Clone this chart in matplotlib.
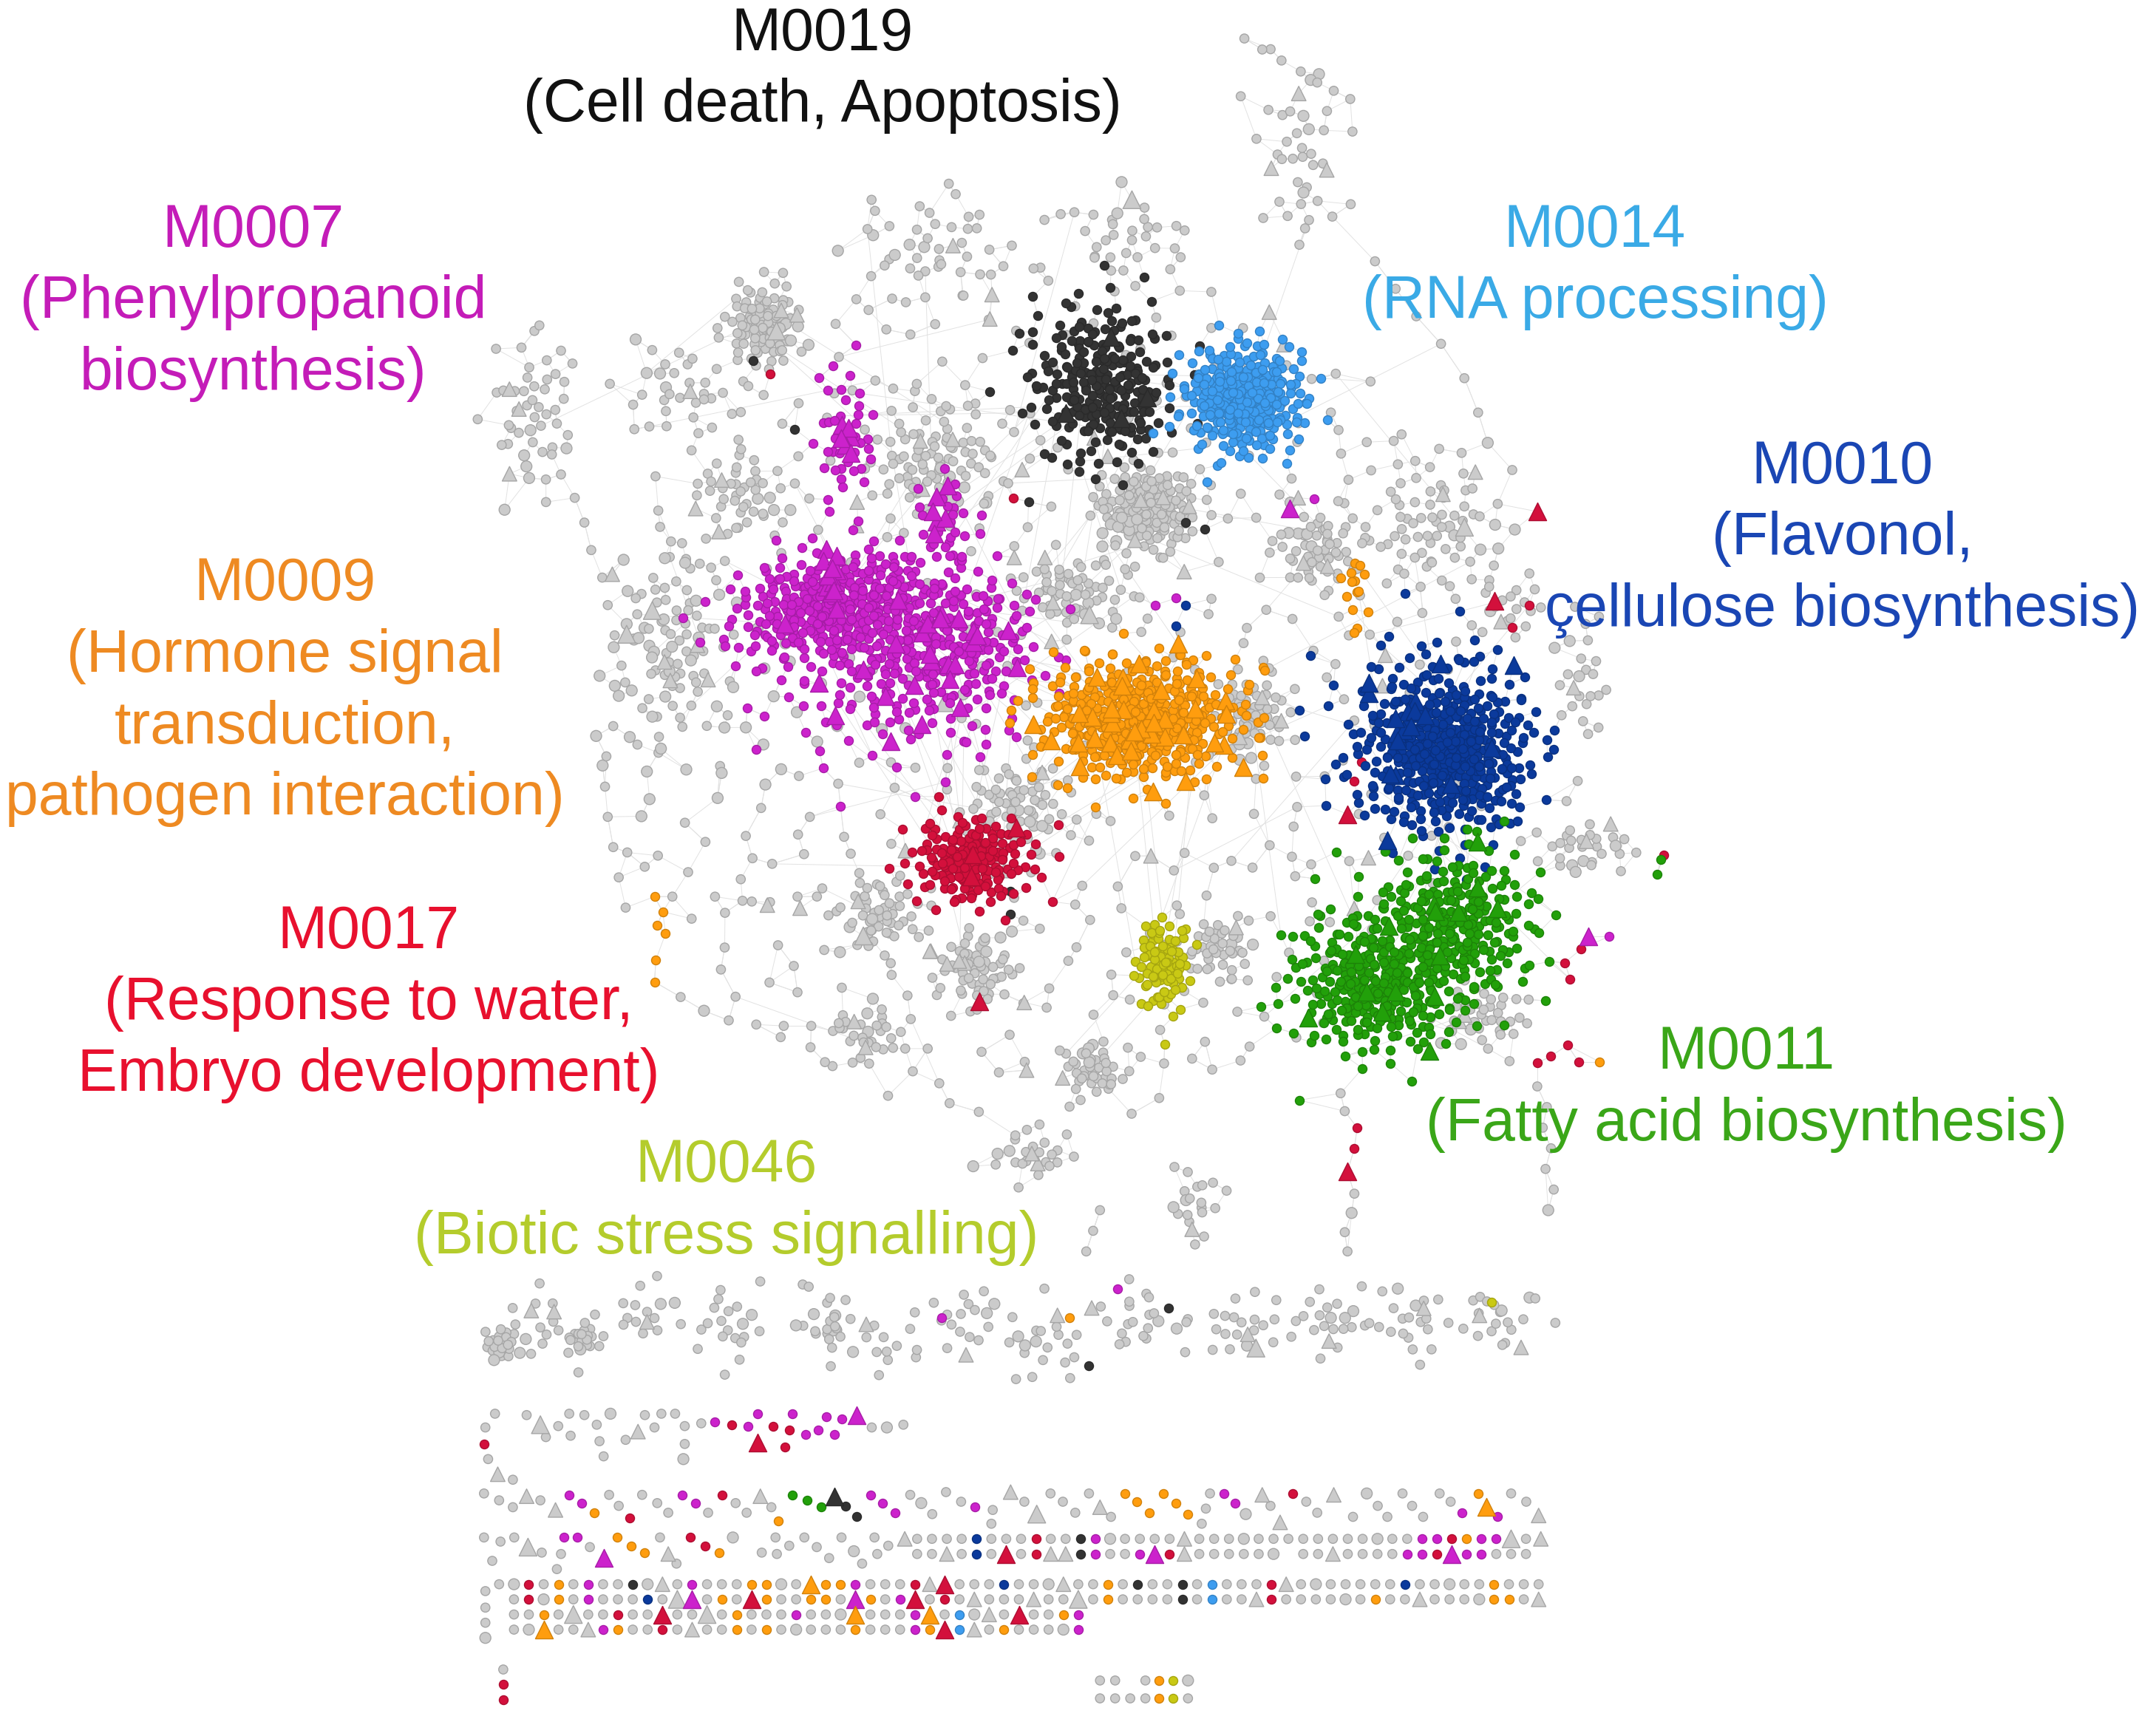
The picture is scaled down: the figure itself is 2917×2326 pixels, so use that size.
import numpy as np
import matplotlib.pyplot as plt
from matplotlib.collections import LineCollection
from matplotlib.colors import to_rgb

# ---- colours ----------------------------------------------------------
node_colors = {'.': '#cbcbcb', 'm': '#cc22cc', 'r': '#d3103c', 'o': '#ff9d0e',
               'k': '#333333', 'b': '#0b3a9c', 'c': '#3d9df0', 'g': '#22a00a',
               'y': '#c9c914'}

# ---- module labels ----------------------------------------------------
label_lines = [["M0019", "(Cell death, Apoptosis)"],
               ["M0007", "(Phenylpropanoid", "biosynthesis)"],
               ["M0014", "(RNA processing)"],
               ["M0010", "(Flavonol,", "çellulose biosynthesis)"],
               ["M0009", "(Hormone signal", "transduction,", "pathogen interaction)"],
               ["M0017", "(Response to water,", "Embryo development)"],
               ["M0011", "(Fatty acid biosynthesis)"],
               ["M0046", "(Biotic stress signalling)"]]
label_x = [598, 184, 1160, 1340, 207, 268, 1270, 528]
label_y = [25, 168, 168, 340, 425, 678, 766, 848]
label_colors = ['#111111', '#c41cb8', '#3aaae6', '#1a46b4', '#ee8a22', '#e8102e',
                '#3aa618', '#b4cc2c']

# ---- main network: coloured node groups -------------------------------
blob_code = ['k', 'k', 'c', 'c', 'm', 'm', 'm', 'm', 'm', 'o', 'o', 'o',
             'b', 'b', 'g', 'g', 'g', 'r', 'r', 'y', 'y']
blob_cx = [805, 795, 905, 900, 605, 690, 650, 615, 688, 830, 830, 985,
           1055, 1035, 1000, 1062, 1025, 705, 710, 845, 848]
blob_cy = [288, 270, 290, 290, 440, 465, 485, 320, 378, 520, 530, 425,
           548, 535, 718, 668, 690, 625, 628, 700, 712]
blob_sx = [24, 65, 22, 55, 38, 35, 110, 26, 24, 38, 85, 10,
           30, 85, 32, 28, 95, 20, 60, 10, 20]
blob_sy = [26, 70, 20, 55, 20, 30, 85, 60, 42, 22, 60, 35,
           30, 85, 25, 28, 75, 15, 45, 16, 45]
blob_n = [130, 120, 240, 55, 300, 180, 170, 45, 30, 330, 110, 10,
          330, 140, 230, 180, 110, 130, 45, 70, 22]
blob_tri = [2, 2, 0, 0, 12, 12, 14, 6, 6, 30, 8, 0,
            10, 10, 6, 5, 4, 3, 0, 0, 0]
blob_shape = ['g', 's', 'g', 's', 'g', 'g', 's', 's', 's', 'g', 's', 's',
              'g', 's', 'g', 'g', 's', 'g', 's', 'g', 's']
blob_rot = [0, 0, 0, 0, -10, 0, 0, 0, 0, 0, 0, 0,
            0, 0, 0, 0, 0, 0, 0, 0, 0]

# ---- main network: grey node groups -----------------------------------
gray_cx = [555, 495, 385, 490, 680, 835, 640, 740, 885, 795, 710, 632, 1150, 1080,
           750, 870, 1045, 945, 680, 820, 910, 1150, 960, 760, 1100, 540, 780]
gray_cy = [235, 285, 300, 470, 335, 370, 665, 585, 690, 778, 705, 752, 615, 738,
           840, 875, 380, 110, 180, 170, 520, 495, 400, 500, 440, 360, 430]
gray_sx = [30, 25, 35, 45, 55, 40, 35, 40, 14, 12, 35, 32, 40, 40,
           35, 25, 60, 40, 80, 55, 28, 22, 35, 330, 30, 40, 45]
gray_sy = [35, 20, 70, 85, 50, 35, 35, 40, 12, 10, 32, 26, 26, 30,
           22, 30, 60, 75, 50, 35, 35, 65, 35, 320, 30, 35, 30]
gray_n = [90, 35, 45, 80, 90, 160, 50, 65, 40, 40, 55, 30, 30, 40,
          25, 20, 65, 35, 45, 30, 60, 25, 55, 520, 20, 40, 60]
gray_tri = [3, 1, 3, 5, 4, 4, 2, 2, 1, 1, 3, 2, 2, 2,
            2, 1, 3, 3, 2, 1, 2, 1, 2, 32, 1, 2, 2]
gray_shape = ['s', 'g', 's', 's', 's', 's', 's', 's', 'g', 'g', 's', 's', 's', 's',
              's', 's', 's', 's', 's', 's', 's', 's', 's', 'u', 's', 's', 's']

# chains and single coloured nodes of the main network
chain_x = [408, 404, 410, 405, 412, 408, 418, 425, 430, 438, 442, 447, 452, 450, 446,
           441, 440, 442, 446, 450, 455, 495, 512, 530, 550, 570, 590, 610,
           975, 978, 985, 983, 978, 980, 1118, 1125, 1122, 1128, 1124, 1130, 1126,
           905, 918, 932, 946, 958, 970, 982, 955, 948, 952, 945,
           1000, 1015, 1030, 1048, 1065, 1075, 1082, 520, 540, 560, 580, 598,
           800, 795, 790, 1175, 1190]
chain_y = [255, 272, 290, 308, 326, 345, 362, 380, 400, 420, 440, 462, 484, 506, 528,
           550, 572, 594, 616, 638, 660, 725, 735, 742, 745, 746, 746, 744,
           795, 808, 868, 882, 896, 910, 790, 805, 820, 835, 850, 865, 880,
           28, 36, 44, 52, 60, 66, 72, 120, 140, 160, 178,
           190, 210, 230, 250, 275, 300, 322, 652, 655, 656, 652, 646,
           880, 895, 910, 615, 620]

stray_x = [1118, 1087, 980, 712, 980, 938, 956, 1155, 1170, 1112, 1100, 990, 985,
           1210, 1140, 1128, 1148, 1118, 1138, 1142, 1150, 1163, 476, 482, 478, 484,
           477, 476, 1205, 945, 735, 862, 876, 548, 578, 560, 737, 748, 975, 988,
           995, 985, 862, 855, 840, 855, 987, 985, 735, 770, 1208]
stray_y = [372, 437, 592, 728, 852, 370, 363, 681, 681, 440, 456, 554, 568,
           622, 760, 768, 772, 773, 700, 712, 690, 772, 652, 663, 673, 679,
           698, 714, 636, 800, 665, 380, 385, 262, 312, 272, 362, 365, 420, 430,
           445, 460, 440, 455, 440, 435, 820, 835, 648, 600, 625]
stray_code = ['R', 'R', 'R', 'R', 'R', 'M', 'm', 'M', 'm', 'r', 'r', 'r', 'r',
              'r', 'r', 'r', 'r', 'r', 'r', 'r', 'r', 'o', 'o', 'o', 'o', 'o',
              'o', 'o', 'g', 'g', 'k', 'k', 'k', 'k', 'k', 'r', 'r', 'k', 'o', 'o',
              'o', 'o', 'b', 'b', 'm', 'm', 'r', 'r', 'k', 'r', 'g']

# ---- lower part: small components ---------------------------------------
# grid rows: y, first x, one code per node ('.' grey, '^' grey triangle,
# lower case = coloured circle, upper case = coloured triangle, ' ' = none)
grid_y = [1119, 1130, 1152, 1163, 1174, 1185]
grid_x0 = [667, 667, 363, 363, 363, 363]
grid_rows = ["....b...r..km.....^...............mmromm^.^",
             "..^.b.R.r^^km..mMr^...... ..^....mmrMmm...",
             "..r.o.m..k.^.m...oo..Ooom...r^R...b...^..o.k..k.c...r^.......b.....o...",
             " .r.o.m...b.^M.o.Ro..oo.Mo.mR.r.^...^..^.o....k.c..^r......o..^....oo.^",
             " ..o.^..r..R..^.o...m...O...mO.c.^.R..om",
             " ..O..^mo..r.^..o.o.....o...moRc^.o....m"]

small_x = [360, 353, 352, 355, 362, 373, 383, 393, 397, 406, 414, 415, 425, 434, 436,
           439, 444, 455, 464, 469, 476, 481, 491, 498, 498, 497, 510, 520, 532, 544,
           551, 551, 562, 571, 574, 576, 586, 595, 601, 607, 612, 623, 634, 645, 657,
           352, 363, 373, 383, 393, 404, 414, 423, 432, 443, 450, 458, 467, 478, 486,
           496, 506, 515, 525, 535, 543, 553, 561, 566, 576, 587, 597, 607, 615, 623,
           633, 642, 651, 662, 670, 678, 688, 699, 709, 722, 721, 735, 745,
           754, 764, 773, 782, 792, 800, 808, 818, 827, 836, 846, 855, 864, 874, 877,
           880, 890, 898, 906, 918, 924, 931, 940, 950, 958, 970, 984, 994, 1002,
           1009, 1020, 1027, 1035, 1047, 1055, 1063, 1075, 1081, 1089, 1099, 1110, 1119,
           352, 364, 374, 384, 394, 358, 410, 420, 429, 439, 449, 459, 469, 408, 405,
           480, 486, 492, 502, 513, 523, 533, 554, 564, 565, 574, 585, 594, 603, 612,
           621, 627, 636, 646, 638, 658,
           353, 353, 353, 353, 366, 366, 366,
           800, 811, 833, 843, 853, 864, 800, 811, 822, 833, 843, 853, 864]
small_y = [1028, 1038, 1050, 1061, 1072, 1076, 1029, 1036, 1045, 1037, 1028, 1044, 1029,
           1036, 1048, 1059, 1028, 1047, 1041, 1029, 1038, 1028, 1028, 1037, 1050, 1061,
           1035, 1034, 1036, 1037, 1028, 1049, 1037, 1052, 1040, 1028, 1043, 1040, 1030,
           1043, 1032, 1029, 1038, 1038, 1036,
           1086, 1091, 1096, 1088, 1091, 1098, 1087, 1093, 1100, 1087, 1095, 1104, 1087,
           1093, 1100, 1087, 1093, 1100, 1087, 1093, 1100, 1088, 1096, 1106, 1087, 1091,
           1096, 1088, 1095, 1103, 1087, 1093, 1100, 1087, 1093, 1101, 1085, 1092, 1096,
           1098, 1108, 1085, 1092,
           1101, 1086, 1092, 1100, 1086, 1096, 1103, 1086, 1092, 1100, 1086, 1093, 1101,
           1108, 1097, 1086, 1086, 1093, 1101, 1087, 1095, 1107, 1086, 1092, 1100, 1087,
           1103, 1086, 1095, 1103, 1086, 1095, 1103, 1086, 1092, 1100, 1086, 1096, 1103,
           1086, 1092, 1102,
           1118, 1121, 1118, 1125, 1129, 1135, 1118, 1118, 1125, 1133, 1118, 1124, 1129,
           1130, 1141, 1118, 1130, 1137, 1118, 1124, 1129, 1118, 1129, 1118, 1130, 1124,
           1118, 1125, 1133, 1118, 1128, 1137, 1118, 1124, 1130, 1119,
           1157, 1169, 1180, 1191, 1214, 1225, 1236,
           1222, 1222, 1222, 1222, 1222, 1222, 1235, 1235, 1235, 1235, 1235, 1235, 1235]
small_code = ['.', '.', 'r', '.', '^', '.', '.', '^', '.', '.', '.', '.', '.', '.', '.',
              '.', '.', '.', '^', '.', '.', '.', '.', '.', '.', '.', '.', 'm', 'r', 'm',
              'm', 'R', 'r', 'r', 'r', 'm', 'm', 'm', 'm', 'm', 'm', 'M', '.', '.', '.',
              '.', '.', '.', '^', '.', '^', 'm', 'm', 'o', '.', '.', 'r', '.', '.', '.',
              'm', 'm', '.', 'r', '.', '.', '^', '.', 'o', 'g', 'g', 'g', 'K', 'k', 'k',
              'm', 'm', 'm', '.', '.', '.', '.', '.', 'm', '.', '.', '^', '.',
              '^', '.', '.', '.', '.', '^', '.', 'o', 'o', 'o', 'o', 'o', 'o', '.', '.',
              '.', 'm', 'm', '.', '^', '.', '^', 'r', '.', '.', '^', '.', '.', '.',
              '.', '.', '.', '.', '.', '.', 'm', 'o', 'O', 'm', '.', '.', '^',
              '.', '.', '.', '^', '.', '.', 'm', 'm', '.', 'M', 'o', 'o', 'o', '.', '.',
              '.', '^', '.', 'r', 'r', 'o', '.', '.', '.', '.', '.', '.', '.', '.', '.',
              '.', '.', '.', '.', '.', '^',
              '.', '.', '.', '.', '.', 'r', 'r',
              '.', '.', '.', 'o', 'y', '.', '.', '.', '.', '.', 'o', 'y', '.']

top_cx = [364, 425, 606, 395, 470, 530, 600, 640, 700, 760, 830, 900, 965, 1030, 1090]
top_cy = [977, 974, 968, 965, 955, 965, 958, 980, 960, 975, 960, 965, 960, 960, 960]
top_sx = [6, 6, 4, 35, 30, 30, 30, 25, 40, 35, 40, 35, 35, 40, 35]
top_sy = [6, 5, 4, 35, 28, 35, 28, 30, 30, 35, 30, 30, 30, 30, 28]
top_n = [25, 20, 8, 18, 16, 20, 16, 12, 20, 20, 22, 20, 22, 22, 20]
top_tri = [0, 0, 0, 2, 1, 0, 0, 1, 1, 1, 1, 2, 1, 1, 2]
top_stray_x = [685, 813, 778, 850, 792, 1085]
top_stray_y = [958, 937, 958, 951, 993, 947]
top_stray_code = ['m', 'm', 'o', 'k', 'k', 'y']


def vdc(k, base):
    # van der Corput radical inverse, used for a Halton layout of each group
    out = np.zeros(len(k))
    f = 1.0 / base
    kk = k.copy()
    while (kk > 0).any():
        out += (kk % base) * f
        kk //= base
        f /= base
    return out


def spread(cx, cy, sx, sy, n, shape, rot, seed):
    k = np.arange(1, n + 1) + seed * 61 + 17
    u = vdc(k, 2)
    v = vdc(k, 3)
    if shape == 'g':
        r = np.sqrt(-2.0 * np.log(1.0 - 0.985 * u))
    elif shape == 's':
        r = 0.45 * np.sqrt(-2.0 * np.log(1.0 - 0.985 * u))
    else:
        r = np.sqrt(u)
    t = 2 * np.pi * v
    dx = sx * r * np.cos(t)
    dy = sy * r * np.sin(t)
    a = np.deg2rad(rot)
    return cx + dx * np.cos(a) - dy * np.sin(a), cy + dx * np.sin(a) + dy * np.cos(a)


def group_codes(code, n, ntri, seed):
    tri = code.upper() if code != '.' else '^'
    out = [code] * n
    if ntri:
        for i in np.linspace(seed % 5, n - 1, ntri).astype(int):
            out[i] = tri
    return out


xs, ys, cs = [], [], []
seed = 0
for i in range(len(gray_cx)):
    x, y = spread(gray_cx[i], gray_cy[i], gray_sx[i], gray_sy[i], gray_n[i], gray_shape[i], 0, seed)
    xs += list(x); ys += list(y); cs += group_codes('.', gray_n[i], gray_tri[i], seed)
    seed += 1
xs += chain_x; ys += chain_y; cs += ['.'] * len(chain_x)
for i in range(len(blob_code)):
    x, y = spread(blob_cx[i], blob_cy[i], blob_sx[i], blob_sy[i], blob_n[i], blob_shape[i],
                  blob_rot[i], seed)
    xs += list(x); ys += list(y); cs += group_codes(blob_code[i], blob_n[i], blob_tri[i], seed)
    seed += 1
xs += stray_x; ys += stray_y; cs += stray_code
main_count = len(xs)

for i in range(len(top_cx)):
    x, y = spread(top_cx[i], top_cy[i], top_sx[i], top_sy[i], top_n[i],
                  'g' if top_sx[i] < 10 else 's', 0, seed)
    xs += list(x); ys += list(y); cs += group_codes('.', top_n[i], top_tri[i], seed)
    seed += 1
xs += top_stray_x; ys += top_stray_y; cs += top_stray_code
for y0, x0, row in zip(grid_y, grid_x0, grid_rows):
    for j, c in enumerate(row):
        if c != ' ':
            xs.append(x0 + 10.8 * j); ys.append(y0); cs.append(c)
xs += small_x; ys += small_y; cs += small_code

X = np.array(xs, dtype=float)
Y = np.array(ys, dtype=float)
C = np.array(cs)

fig = plt.figure(figsize=(29.17, 23.26), dpi=100)
ax = fig.add_axes([0, 0, 1, 1])
ax.set_xlim(0, 1568)
ax.set_ylim(1250, 0)
ax.axis('off')

# faint edges: nearest neighbours plus a few long links in the main network
P = np.column_stack([X[:main_count], Y[:main_count]])
segs = []
for s in range(0, main_count, 800):
    d = np.hypot(P[s:s + 800, None, 0] - P[None, :, 0], P[s:s + 800, None, 1] - P[None, :, 1])
    for r in range(d.shape[0]):
        d[r, s + r] = 1e9
    nn = np.argsort(d, axis=1)[:, :2]
    for r in range(d.shape[0]):
        for j in nn[r]:
            segs.append([P[s + r], P[j]])
for i in range(0, main_count, 5):
    j = (i * 7919 + 13) % main_count
    if np.hypot(*(P[i] - P[j])) < 170:
        segs.append([P[i], P[j]])
ax.add_collection(LineCollection(segs, colors='#e2e2e2', linewidths=0.7, zorder=1))


def darker(col, f=0.82):
    return tuple(v * f for v in to_rgb(col))


big = np.arange(len(X)) % 9 == 0
for code in ['.', '^', 'k', 'c', 'm', 'r', 'o', 'b', 'g', 'y',
             'K', 'C', 'M', 'R', 'O', 'B', 'G', 'Y']:
    sel = C == code
    if not sel.any():
        continue
    tri = code == '^' or code.isupper()
    base = '.' if code in '.^' else code.lower()
    col = node_colors[base]
    if tri:
        size = np.where(big[sel], 300, 200) if base == '.' else 300
        z = 4 if base != '.' else 2.5
        ax.scatter(X[sel], Y[sel], s=size, marker='^', c=col, edgecolors=darker(col),
                   linewidths=1.0, zorder=z)
    else:
        size = np.where(big[sel], 115, 78) if base == '.' else 75
        z = 3 if base != '.' else 2
        ax.scatter(X[sel], Y[sel], s=size, marker='o', c=col, edgecolors=darker(col),
                   linewidths=1.0, zorder=z)

for lines, lx, ly, lc in zip(label_lines, label_x, label_y, label_colors):
    for i, t in enumerate(lines):
        ax.text(lx, ly + 52 * i, t, ha='center', va='center', fontsize=58,
                family=['Liberation Sans', 'DejaVu Sans'], color=lc, zorder=6)

fig.savefig('out.png', dpi=100, facecolor='white')
